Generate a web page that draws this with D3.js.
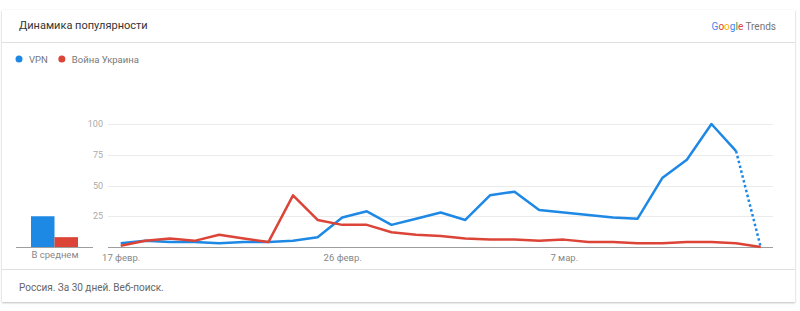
<!DOCTYPE html>
<html>
<head>
<meta charset="utf-8">
<script src="https://cdn.jsdelivr.net/npm/d3@7"></script>
<style>
  body { margin: 0; background: #fff; font-family: Roboto, "Noto Sans", sans-serif; }
  #card {
    position: absolute; left: 2px; top: 10px; width: 793px; height: 292px;
    background: #fff; box-shadow: 0 1px 2px rgba(0,0,0,0.25), 0 0 1px rgba(0,0,0,0.08);
  }
  #chart { position: absolute; left: 0; top: 0; }
</style>
</head>
<body>
<div id="card"></div>
<div id="chart"></div>
<script>
// Data (Google Trends, Russia, last 30 days)
const DATES = ["2022-02-17","2022-02-18","2022-02-19","2022-02-20","2022-02-21","2022-02-22","2022-02-23",
  "2022-02-24","2022-02-25","2022-02-26","2022-02-27","2022-02-28","2022-03-01","2022-03-02","2022-03-03",
  "2022-03-04","2022-03-05","2022-03-06","2022-03-07","2022-03-08","2022-03-09","2022-03-10","2022-03-11",
  "2022-03-12","2022-03-13","2022-03-14","2022-03-15"];
const VPN = [3,5,4,4,3,4,4,5,8,24,29,18,23,28,22,42,45,30,28,26,24,23,56,71,100,78,0];
const WAR = [1,5,7,5,10,7,4,42,22,18,18,12,10,9,7,6,6,5,6,4,4,3,3,4,4,3,0];
const SERIES_NAMES = ["VPN", "Война Украина"];
const AVERAGES = [25, 8];
const Y_TICKS = [25, 50, 75, 100];
const X_TICKS = ["2022-02-17", "2022-02-26", "2022-03-07"];
const X_TICK_LABELS = ["17 февр.", "26 февр.", "7 мар."];

const COLORS = ["#1e88e5", "#db4437"];
const DOTTED_TAIL = [true, false];

const parse = d3.timeParse("%Y-%m-%d");
const dates = DATES.map(parse);

const svg = d3.select("#chart").append("svg")
    .attr("width", 800)
    .attr("height", 311)
    .style("font-family", "Roboto, 'Noto Sans', sans-serif");

// header
svg.append("text")
    .attr("x", 19).attr("y", 25)
    .attr("dominant-baseline", "central")
    .attr("font-size", "11px")
    .attr("fill", "#333")
    .text("Динамика популярности");

const logo = svg.append("text")
    .attr("x", 776).attr("y", 26)
    .attr("text-anchor", "end")
    .attr("dominant-baseline", "central")
    .attr("font-size", "10px");
const logoColors = ["#4285f4", "#db4437", "#f4b400", "#4285f4", "#0f9d58", "#db4437"];
"Google".split("").forEach((ch, i) => logo.append("tspan").attr("fill", logoColors[i]).text(ch));
logo.append("tspan").attr("fill", "#757575").text(" Trends");

svg.append("line")
    .attr("x1", 2).attr("x2", 795).attr("y1", 42.5).attr("y2", 42.5)
    .attr("stroke", "#e0e0e0");

// legend
let lx = 19;
SERIES_NAMES.forEach((name, i) => {
    svg.append("circle").attr("cx", lx).attr("cy", 59).attr("r", 3.5).attr("fill", COLORS[i]);
    const t = svg.append("text")
        .attr("x", lx + 10).attr("y", 59)
        .attr("dominant-baseline", "central")
        .attr("font-size", "9.5px")
        .attr("fill", "#777")
        .text(name);
    lx += t.node().getComputedTextLength() + 24;
});

// scales
const y = d3.scaleLinear().domain([0, 100]).range([247, 124]);
const x = d3.scaleTime().domain(d3.extent(dates)).range([120.7, 760.7]);

// grid + y labels
svg.append("g")
    .selectAll("line")
    .data(Y_TICKS)
    .join("line")
    .attr("x1", 108).attr("x2", 773)
    .attr("y1", d => Math.round(y(d)) + 0.5).attr("y2", d => Math.round(y(d)) + 0.5)
    .attr("stroke", "#ebebeb");

svg.append("g")
    .selectAll("text")
    .data(Y_TICKS)
    .join("text")
    .attr("x", 103).attr("y", d => y(d))
    .attr("text-anchor", "end")
    .attr("dominant-baseline", "central")
    .attr("font-size", "9px")
    .attr("fill", "#aaa")
    .text(d => d);

// baseline
svg.append("line")
    .attr("x1", 108).attr("x2", 773).attr("y1", 247.5).attr("y2", 247.5)
    .attr("stroke", "#9e9e9e");

// x labels
const xAxis = d3.axisBottom(x)
    .tickValues(X_TICKS.map(parse))
    .tickSize(0)
    .tickFormat((d, i) => X_TICK_LABELS[i]);
const gx = svg.append("g").attr("transform", "translate(0,247)").call(xAxis);
gx.select(".domain").remove();
gx.selectAll("text")
    .attr("y", 7)
    .attr("dy", "0.71em")
    .attr("font-size", "9.5px")
    .attr("font-family", "Roboto, 'Noto Sans', sans-serif")
    .attr("fill", "#888");

// lines
const line = d3.line()
    .x(d => x(d.date))
    .y(d => y(d.value));

[VPN, WAR].forEach((vals, i) => {
    const pts = vals.map((v, k) => ({date: dates[k], value: v}));
    const n = pts.length;
    const cut = DOTTED_TAIL[i] ? n - 1 : n;
    svg.append("path")
        .datum(pts.slice(0, cut))
        .attr("fill", "none")
        .attr("stroke", COLORS[i])
        .attr("stroke-width", 2.5)
        .attr("stroke-linejoin", "round")
        .attr("d", line);
    if (DOTTED_TAIL[i]) {
        svg.append("path")
            .datum(pts.slice(n - 2))
            .attr("fill", "none")
            .attr("stroke", COLORS[i])
            .attr("stroke-width", 2.5)
            .attr("stroke-dasharray", "2.5,2.5")
            .attr("d", line);
    }
});

// averages
const xb = d3.scaleBand().domain(SERIES_NAMES).range([31, 78]).padding(0);
svg.append("g")
    .selectAll("rect")
    .data(AVERAGES)
    .join("rect")
    .attr("x", (d, i) => xb(SERIES_NAMES[i]))
    .attr("width", xb.bandwidth())
    .attr("y", d => y(d))
    .attr("height", d => y(0) - y(d))
    .attr("fill", (d, i) => COLORS[i]);

svg.append("line")
    .attr("x1", 16).attr("x2", 93).attr("y1", 247.5).attr("y2", 247.5)
    .attr("stroke", "#9e9e9e");

svg.append("text")
    .attr("x", 55).attr("y", 254)
    .attr("text-anchor", "middle")
    .attr("dominant-baseline", "central")
    .attr("font-size", "9.5px")
    .attr("fill", "#888")
    .text("В среднем");

// footer
svg.append("line")
    .attr("x1", 2).attr("x2", 795).attr("y1", 269.5).attr("y2", 269.5)
    .attr("stroke", "#e0e0e0");

svg.append("text")
    .attr("x", 19).attr("y", 287)
    .attr("dominant-baseline", "central")
    .attr("font-size", "10px")
    .attr("fill", "#666")
    .text("Россия. За 30 дней. Веб-поиск.");
</script>
</body>
</html>
